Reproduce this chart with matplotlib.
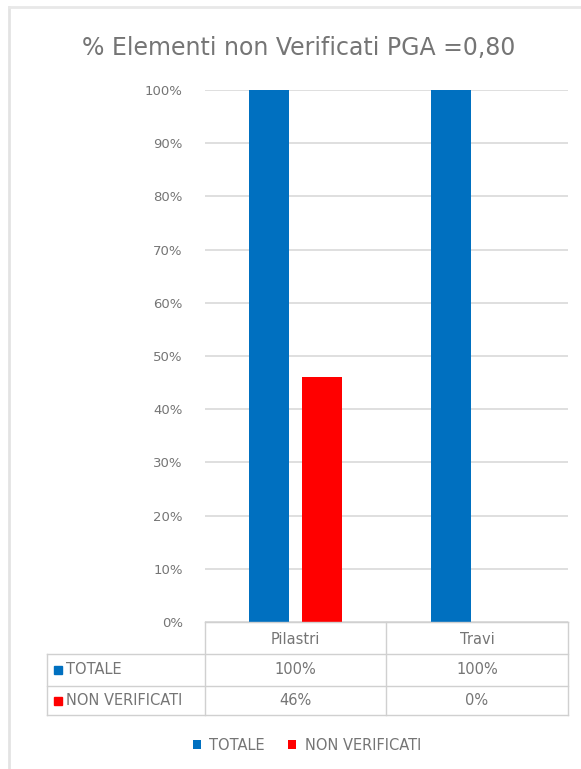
import matplotlib
matplotlib.use("Agg")
import matplotlib.pyplot as plt
from matplotlib.patches import Rectangle
from matplotlib.lines import Line2D

# Data
categories = ["Pilastri", "Travi"]
totale = [1.00, 1.00]
non_verificati = [0.46, 0.00]
series_names = ["TOTALE", "NON VERIFICATI"]
y_ticks = [0.0, 0.1, 0.2, 0.3, 0.4, 0.5, 0.6, 0.7, 0.8, 0.9, 1.0]
title = "% Elementi non Verificati PGA =0,80"

BLUE = "#0070C0"
RED = "#FF0000"
TEXT = "#757575"
GRID = "#D9D9D9"
FONT = "DejaVu Sans"

W, H = 581, 769
fig = plt.figure(figsize=(W / 100, H / 100), dpi=100)
fig.patch.set_facecolor("white")


def fx(px):
    return px / W


def fy(py):
    return 1 - py / H


# chart frame
fig.add_artist(Line2D([fx(9), fx(9)], [fy(7), fy(769)], color="#E3E3E3", lw=2))
fig.add_artist(Line2D([fx(9), fx(581)], [fy(7), fy(7)], color="#E8E8E8", lw=2))

# plot area
ax_left, ax_right, ax_top, ax_bottom = 205, 568, 90, 622
ax = fig.add_axes([fx(ax_left), fy(ax_bottom), fx(ax_right - ax_left),
                   (ax_bottom - ax_top) / H])
ax.set_facecolor("none")

x = range(len(categories))
off = 0.145
bw = 0.22
ax.bar([i - off for i in x], totale, width=bw, color=BLUE, zorder=3,
       label=series_names[0])
ax.bar([i + off for i in x], non_verificati, width=bw, color=RED, zorder=3,
       label=series_names[1])

ax.set_xlim(-0.5, len(categories) - 0.5)
ax.set_ylim(0, 1.0)
ax.set_yticks(y_ticks)
ax.set_yticklabels([f"{int(round(t * 100))}%" for t in y_ticks],
                   fontsize=9.5, color=TEXT, family=FONT)
ax.tick_params(axis="y", length=0, pad=16)
ax.set_xticks([])
ax.yaxis.grid(True, color=GRID, lw=1.2, zorder=0)
ax.set_axisbelow(True)
for s in ax.spines.values():
    s.set_visible(False)
ax.spines["bottom"].set_visible(True)
ax.spines["bottom"].set_color(GRID)

fig.text(fx(299), fy(48), title, ha="center", va="center",
         fontsize=17, color=TEXT, family=FONT)

# data table below the axis
tbl_top, row1, row2, tbl_bot = 622, 654, 686, 715
col_left, col_mid, col_right = ax_left, 386, 568
lab_left = 47
lc = "#D0D0D0"
for yy, x0 in [(tbl_top, col_left), (row1, lab_left), (row2, lab_left), (tbl_bot, lab_left)]:
    fig.add_artist(Line2D([fx(x0), fx(col_right)], [fy(yy), fy(yy)], color=lc, lw=1))
for xx, y0 in [(lab_left, row1), (col_left, tbl_top), (col_mid, tbl_top), (col_right, tbl_top)]:
    fig.add_artist(Line2D([fx(xx), fx(xx)], [fy(y0), fy(tbl_bot)], color=lc, lw=1))

fs = 10.5
col_centers = [(col_left + col_mid) / 2, (col_mid + col_right) / 2]
for c, name in zip(col_centers, categories):
    fig.text(fx(c), fy((tbl_top + row1) / 2 + 1), name, ha="center", va="center",
             fontsize=fs, color=TEXT, family=FONT)
rows = [(totale, BLUE, series_names[0], (row1 + row2) / 2),
        (non_verificati, RED, series_names[1], (row2 + tbl_bot) / 2)]
for vals, col, name, yc in rows:
    fig.add_artist(Rectangle((fx(54), fy(yc + 4)), fx(8), 8 / H, color=col,
                             transform=fig.transFigure))
    fig.text(fx(66), fy(yc), name, ha="left", va="center", fontsize=fs,
             color=TEXT, family=FONT)
    for c, v in zip(col_centers, vals):
        fig.text(fx(c), fy(yc), f"{int(round(v * 100))}%", ha="center",
                 va="center", fontsize=fs, color=TEXT, family=FONT)

# legend
leg = fig.legend(loc="center", bbox_to_anchor=(fx(307), fy(745)), ncol=2,
                 frameon=False, handlelength=0.55, handleheight=0.55,
                 handletextpad=0.6, columnspacing=1.6,
                 prop={"family": FONT, "size": fs})
for t in leg.get_texts():
    t.set_color(TEXT)

fig.savefig("out.png", dpi=100, facecolor="white")
